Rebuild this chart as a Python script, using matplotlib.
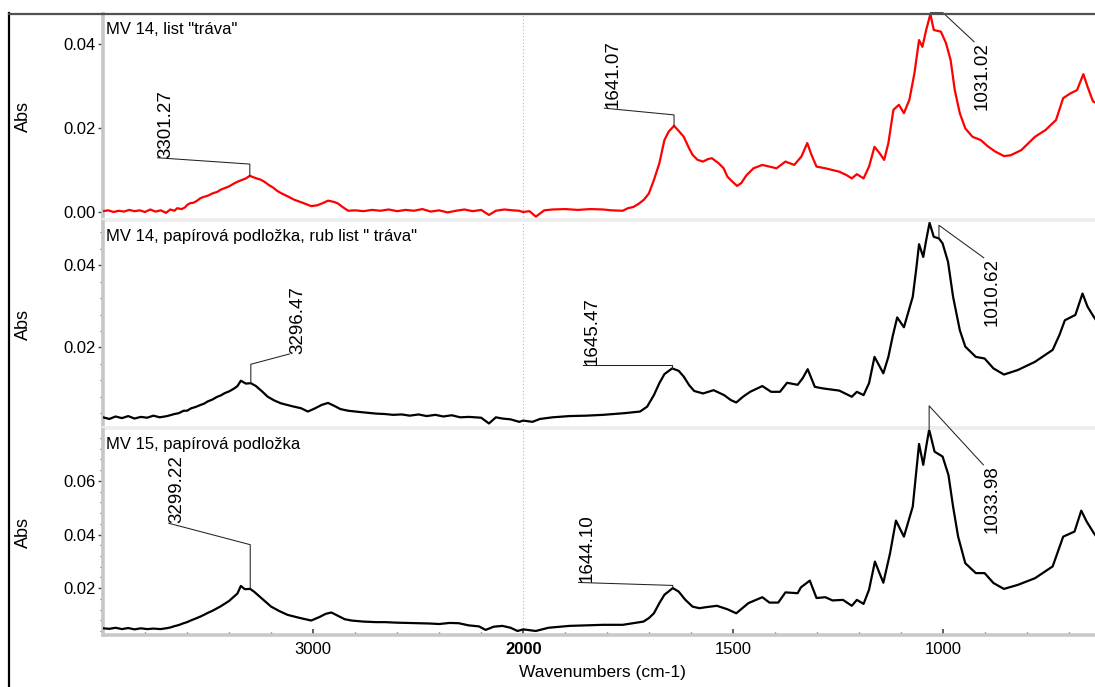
import numpy as np
import matplotlib
matplotlib.use("Agg")
import matplotlib.pyplot as plt
from matplotlib.lines import Line2D

plt.rcParams["font.family"] = ["Liberation Sans", "DejaVu Sans"]

# ---------------- spectra (wavenumber cm-1, absorbance) ----------------
wn_a = [4000, 3975, 3950, 3925, 3900, 3875, 3850, 3825, 3800, 3775, 3750, 3725, 3700, 3680,
        3660, 3647, 3625, 3610, 3599, 3585, 3570, 3555, 3536, 3520, 3500, 3480, 3456, 3440,
        3420, 3400, 3376, 3360, 3340, 3320, 3301.27, 3285, 3270, 3250, 3232, 3210, 3190,
        3170, 3153, 3120, 3089, 3050, 3009, 2980, 2950, 2929, 2900, 2881, 2860, 2833, 2800,
        2760, 2720, 2680, 2640, 2600, 2560, 2520, 2480, 2440, 2400, 2360, 2320, 2280, 2240,
        2200, 2163, 2130, 2090, 2050, 2020, 2000, 1985, 1970, 1950, 1930, 1900, 1870, 1840,
        1810, 1790, 1763, 1751, 1738, 1726, 1713, 1701, 1689, 1676, 1664, 1654, 1641.07, 1630,
        1618, 1605, 1597, 1585, 1572, 1560, 1551, 1535, 1523, 1514, 1502, 1491, 1481, 1469,
        1452, 1431, 1414, 1397, 1376, 1355, 1338, 1324, 1314, 1302, 1281, 1265, 1248, 1231,
        1218, 1206, 1190, 1177, 1164, 1152, 1141, 1131, 1125, 1119, 1106, 1094, 1081, 1069,
        1058, 1050, 1041, 1031.02, 1023, 1006, 994, 983, 973, 961, 948, 931, 911, 894, 877,
        856, 840, 815, 782, 757, 732, 715, 698, 682, 667, 657, 644, 636, 625]
abs_a = [0.0002, 0.0004, 0.0000, 0.0003, 0.0001, 0.0005, 0.0002, 0.0004, 0.0000, 0.0006,
         0.0001, 0.0004, -0.0002, 0.0006, 0.0003, 0.0009, 0.0007, 0.0011, 0.0017, 0.0021,
         0.0022, 0.0026, 0.0033, 0.0036, 0.0039, 0.0044, 0.0048, 0.0053, 0.0057, 0.0061,
         0.0068, 0.0072, 0.0076, 0.0080, 0.0086, 0.0083, 0.0080, 0.0077, 0.0072, 0.0064,
         0.0058, 0.0050, 0.0045, 0.0037, 0.0029, 0.0022, 0.0014, 0.0016, 0.0022, 0.0027,
         0.0024, 0.0020, 0.0012, 0.0003, 0.0004, 0.0002, 0.0005, 0.0003, 0.0006, 0.0002,
         0.0005, 0.0003, 0.0007, 0.0001, 0.0004, -0.0001, 0.0003, 0.0006, 0.0002, 0.0005,
         -0.0007, 0.0003, 0.0006, 0.0004, 0.0003, 0.0000, 0.0002, -0.0011, 0.0004, 0.0006,
         0.0007, 0.0005, 0.0007, 0.0006, 0.0004, 0.0003, 0.0009, 0.0012, 0.0019, 0.0029,
         0.0044, 0.0076, 0.0116, 0.0171, 0.0191, 0.0205, 0.0193, 0.0179, 0.0151, 0.0136,
         0.0124, 0.0120, 0.0126, 0.0128, 0.0116, 0.0104, 0.0084, 0.0072, 0.0062, 0.0069,
         0.0087, 0.0104, 0.0112, 0.0108, 0.0104, 0.0120, 0.0112, 0.0132, 0.0164, 0.0136,
         0.0108, 0.0104, 0.0100, 0.0096, 0.0088, 0.0080, 0.0090, 0.0080, 0.0108, 0.0155,
         0.0140, 0.0124, 0.0164, 0.0203, 0.0243, 0.0255, 0.0235, 0.0267, 0.0330, 0.0409,
         0.0393, 0.0433, 0.0471, 0.0433, 0.0429, 0.0402, 0.0362, 0.0290, 0.0235, 0.0199,
         0.0179, 0.0171, 0.0156, 0.0144, 0.0133, 0.0135, 0.0147, 0.0179, 0.0195, 0.0219,
         0.0271, 0.0282, 0.0290, 0.0328, 0.0298, 0.0263, 0.0259, 0.0203]

wn_b = [4000, 3970, 3940, 3910, 3880, 3850, 3820, 3790, 3760, 3730, 3695, 3660, 3640, 3616,
        3600, 3580, 3560, 3536, 3520, 3500, 3480, 3456, 3440, 3420, 3400, 3376, 3360, 3344,
        3320, 3296.47, 3272, 3245, 3216, 3185, 3153, 3100, 3057, 3025, 2990, 2960, 2929, 2900,
        2870, 2833, 2780, 2738, 2700, 2658, 2620, 2578, 2540, 2498, 2460, 2418, 2380, 2340,
        2300, 2259, 2200, 2163, 2130, 2099, 2060, 2019, 2000, 1978, 1960, 1930, 1890, 1850,
        1810, 1760, 1722, 1705, 1689, 1676, 1664, 1645.47, 1630, 1618, 1605, 1593, 1572, 1547,
        1522, 1506, 1493, 1477, 1460, 1431, 1410, 1389, 1372, 1347, 1335, 1323, 1306, 1285,
        1248, 1218, 1206, 1190, 1177, 1164, 1143, 1131, 1121, 1110, 1094, 1073, 1065, 1058,
        1048, 1041, 1033, 1023, 1010.62, 1002, 989, 977, 961, 948, 923, 902, 881, 856, 823,
        782, 740, 724, 711, 686, 669, 657, 642, 625]
abs_b = [0.0030, 0.0026, 0.0032, 0.0028, 0.0033, 0.0027, 0.0031, 0.0029, 0.0034, 0.0030,
         0.0033, 0.0038, 0.0040, 0.0046, 0.0046, 0.0052, 0.0055, 0.0060, 0.0063, 0.0069,
         0.0073, 0.0080, 0.0083, 0.0089, 0.0093, 0.0100, 0.0106, 0.0119, 0.0112, 0.0113,
         0.0106, 0.0094, 0.0080, 0.0071, 0.0064, 0.0057, 0.0052, 0.0044, 0.0052, 0.0060,
         0.0065, 0.0058, 0.0050, 0.0046, 0.0043, 0.0041, 0.0039, 0.0038, 0.0036, 0.0037,
         0.0034, 0.0037, 0.0033, 0.0036, 0.0032, 0.0035, 0.0030, 0.0031, 0.0029, 0.0015,
         0.0030, 0.0027, 0.0025, 0.0019, 0.0022, 0.0019, 0.0026, 0.0030, 0.0033, 0.0034,
         0.0036, 0.0040, 0.0044, 0.0056, 0.0084, 0.0113, 0.0135, 0.0149, 0.0143, 0.0129,
         0.0108, 0.0094, 0.0088, 0.0096, 0.0084, 0.0072, 0.0066, 0.0080, 0.0092, 0.0106,
         0.0092, 0.0092, 0.0114, 0.0109, 0.0125, 0.0147, 0.0104, 0.0100, 0.0095, 0.0080,
         0.0092, 0.0084, 0.0113, 0.0177, 0.0137, 0.0177, 0.0226, 0.0273, 0.0249, 0.0323,
         0.0388, 0.0451, 0.0420, 0.0461, 0.0503, 0.0469, 0.0465, 0.0453, 0.0408, 0.0323,
         0.0242, 0.0202, 0.0177, 0.0173, 0.0149, 0.0134, 0.0145, 0.0165, 0.0194, 0.0230,
         0.0266, 0.0279, 0.0331, 0.0299, 0.0274, 0.0250]

wn_c = [4000, 3970, 3940, 3910, 3880, 3850, 3820, 3790, 3760, 3727, 3700, 3680, 3660, 3640,
        3616, 3600, 3580, 3560, 3536, 3520, 3500, 3480, 3456, 3440, 3420, 3400, 3376, 3360,
        3344, 3325, 3299.22, 3280, 3264, 3230, 3200, 3160, 3121, 3060, 3009, 2970, 2940, 2913,
        2880, 2850, 2817, 2760, 2700, 2658, 2600, 2550, 2498, 2450, 2400, 2350, 2307, 2260,
        2210, 2179, 2140, 2099, 2060, 2027, 2000, 1970, 1940, 1890, 1850, 1810, 1763, 1714,
        1701, 1689, 1676, 1664, 1644.10, 1630, 1614, 1597, 1581, 1564, 1539, 1514, 1493, 1464,
        1431, 1414, 1393, 1376, 1347, 1339, 1318, 1302, 1281, 1264, 1239, 1218, 1206, 1190,
        1177, 1163, 1143, 1127, 1113, 1094, 1073, 1065, 1058, 1048, 1041, 1033.98, 1021, 1002,
        988, 977, 965, 948, 923, 902, 881, 856, 823, 782, 740, 715, 688, 672, 659, 642, 625]
abs_c = [0.0050, 0.0048, 0.0052, 0.0047, 0.0051, 0.0046, 0.0050, 0.0047, 0.0049, 0.0047,
         0.0050, 0.0053, 0.0058, 0.0062, 0.0069, 0.0073, 0.0080, 0.0086, 0.0094, 0.0100,
         0.0108, 0.0115, 0.0125, 0.0132, 0.0142, 0.0152, 0.0169, 0.0180, 0.0208, 0.0196,
         0.0197, 0.0186, 0.0175, 0.0152, 0.0131, 0.0114, 0.0100, 0.0088, 0.0079, 0.0092,
         0.0104, 0.0109, 0.0096, 0.0084, 0.0079, 0.0075, 0.0073, 0.0073, 0.0071, 0.0070,
         0.0069, 0.0068, 0.0066, 0.0070, 0.0069, 0.0061, 0.0057, 0.0044, 0.0056, 0.0059,
         0.0052, 0.0040, 0.0046, 0.0040, 0.0052, 0.0059, 0.0061, 0.0063, 0.0063, 0.0075,
         0.0088, 0.0106, 0.0144, 0.0175, 0.0200, 0.0187, 0.0156, 0.0131, 0.0125, 0.0129,
         0.0134, 0.0121, 0.0106, 0.0144, 0.0166, 0.0146, 0.0146, 0.0184, 0.0181, 0.0203,
         0.0228, 0.0163, 0.0166, 0.0154, 0.0156, 0.0134, 0.0156, 0.0141, 0.0194, 0.0299,
         0.0220, 0.0330, 0.0452, 0.0392, 0.0504, 0.0628, 0.0738, 0.0660, 0.0728, 0.0791,
         0.0709, 0.0691, 0.0622, 0.0504, 0.0392, 0.0293, 0.0256, 0.0256, 0.0219, 0.0197,
         0.0212, 0.0237, 0.0281, 0.0392, 0.0411, 0.0489, 0.0448, 0.0405, 0.0368]

titles = ['MV 14, list "tráva"',
          'MV 14, papírová podložka, rub list " tráva"',
          'MV 15, papírová podložka']
colors = ["#ff0000", "#000000", "#000000"]

# peak markers: (position, leader path after the peak, label vertical anchor)
peaks = [
    [(3301.27, [(3301.27, 0.0114), (3740, 0.0129)], "bottom"),
     (1641.07, [(1641.07, 0.0231), (1807, 0.0247)], "bottom"),
     (1031.02, [(1031.02, 0.0474), (1001, 0.0474), (927, 0.0405)], "top")],
    [(3296.47, [(3296.47, 0.0159), (3113, 0.0184)], "bottom"),
     (1645.47, [(1645.47, 0.0157), (1857, 0.0157)], "bottom"),
     (1010.62, [(1010.62, 0.0497), (904, 0.0418)], "top")],
    [(3299.22, [(3299.22, 0.0362), (3687, 0.0442)], "bottom"),
     (1644.10, [(1644.10, 0.0210), (1868, 0.0221)], "bottom"),
     (1033.98, [(1033.98, 0.0880), (905, 0.0660)], "top")],
]

y_limits = [(-0.0019, 0.0471), (0.0004, 0.0505), (0.0025, 0.0790)]
y_major = [[0.00, 0.02, 0.04], [0.02, 0.04], [0.02, 0.04, 0.06]]
y_minor_step = [None, 0.004, 0.004]

x_major = [3000, 2000, 1500, 1000]
x_minor = [3800, 3600, 3400, 3200, 2800, 2600, 2400, 2200] + \
          [v for v in range(1900, 600, -100) if v not in (1500, 1000)]


# compressed scale above 2000 cm-1 (half the width per wavenumber)
def fwd(x):
    x = np.asarray(x, dtype=float)
    return np.where(x >= 2000, 2000 + (x - 2000) / 2.0, x)


def inv(t):
    t = np.asarray(t, dtype=float)
    return np.where(t >= 2000, 2000 + 2.0 * (t - 2000), t)


W, H = 1095, 687
fig = plt.figure(figsize=(W / 100, H / 100), dpi=100)

left_px, right_px = 103, 1101
rows_px = [(14, 220), (222, 428), (430, 635)]

spectra = [(wn_a, abs_a), (wn_b, abs_b), (wn_c, abs_c)]
axes = []
for i, ((top, bot), (wn, ab)) in enumerate(zip(rows_px, spectra)):
    rect = [left_px / W, 1 - bot / H, (right_px - left_px) / W, (bot - top) / H]
    ax = fig.add_axes(rect, sharex=axes[0] if axes else None)
    ax.set_xscale("function", functions=(fwd, inv))
    ax.set_xlim(4000, 625)
    ax.set_ylim(*y_limits[i])
    ax.set_facecolor("white")

    ax.plot(wn, ab, color=colors[i], lw=1.6, solid_joinstyle="round", zorder=3)
    ax.axvline(2000, color="#b5b5b5", ls=(0, (1, 2)), lw=0.8, zorder=1)

    # peak labels with leader lines
    wn_arr = np.asarray(wn)[::-1]
    ab_arr = np.asarray(ab)[::-1]
    for pos, path, va in peaks[i]:
        y0 = float(np.interp(pos, wn_arr, ab_arr))
        xs = [pos] + [p[0] for p in path]
        ys = [y0] + [p[1] for p in path]
        ax.plot(xs, ys, color="#222222", lw=0.75, clip_on=False, zorder=4)
        ax.text(xs[-1], ys[-1], f"{pos:.2f}", rotation=90, ha="left", va=va,
                fontsize=13.5, color="black", clip_on=False, zorder=5)

    # spines
    for s in ("top", "right"):
        ax.spines[s].set_visible(False)
    ax.spines["left"].set_color("#c6c6c6")
    ax.spines["left"].set_linewidth(2.6)
    if i < 2:
        ax.spines["bottom"].set_color("#ececec")
        ax.spines["bottom"].set_linewidth(2.6)
    else:
        ax.spines["bottom"].set_color("#c9c9c9")
        ax.spines["bottom"].set_linewidth(2.6)

    # y ticks
    ax.set_yticks(y_major[i])
    ax.set_yticklabels([f"{v:.2f}" for v in y_major[i]])
    if y_minor_step[i]:
        lo, hi = y_limits[i]
        step = y_minor_step[i]
        mins = [round(k * step, 4) for k in range(int(np.ceil(lo / step)), int(hi / step) + 1)]
        ax.set_yticks([m for m in mins if all(abs(m - M) > 1e-6 for M in y_major[i])], minor=True)
    ax.tick_params(axis="y", which="major", direction="out", length=3.5, width=1.0,
                   color="#444444", labelsize=12, pad=2)
    ax.tick_params(axis="y", which="minor", direction="out", length=2.2, width=0.8,
                   color="#555555")

    # panel title
    ax.annotate(titles[i], xy=(0, 1), xycoords="axes fraction", xytext=(3, -15),
                textcoords="offset pixels", ha="left", va="center", fontsize=12)

    fig.text(23 / W, 1 - (top + bot) / 2 / H, "Abs", rotation=90, ha="center",
             va="center", fontsize=13)
    axes.append(ax)

# x axis only on the bottom panel
for ax in axes[:2]:
    ax.tick_params(axis="x", which="both", bottom=False, labelbottom=False)

ax3 = axes[2]
ax3.set_xticks(x_major)
ax3.set_xticklabels([str(v) for v in x_major])
ax3.set_xticks(x_minor, minor=True)
ax3.tick_params(axis="x", which="major", direction="in", length=4, width=1.1,
                color="#333333", labelsize=12, pad=5)
ax3.tick_params(axis="x", which="minor", direction="in", length=2.5, width=1.0,
                color="#555555")
for lab in ax3.get_xticklabels():
    if lab.get_text() == "2000":
        lab.set_fontweight("bold")
ax3.set_xlabel("Wavenumbers (cm-1)", fontsize=12.5, labelpad=6)

# outer frame
fig.add_artist(Line2D([9 / W, 9 / W], [0, 1 - 13 / H], color="black", lw=1.6))
fig.add_artist(Line2D([9 / W, 1], [1 - 14 / H, 1 - 14 / H], color="#505050", lw=1.6))

fig.savefig("out.png", dpi=100, facecolor="white")
